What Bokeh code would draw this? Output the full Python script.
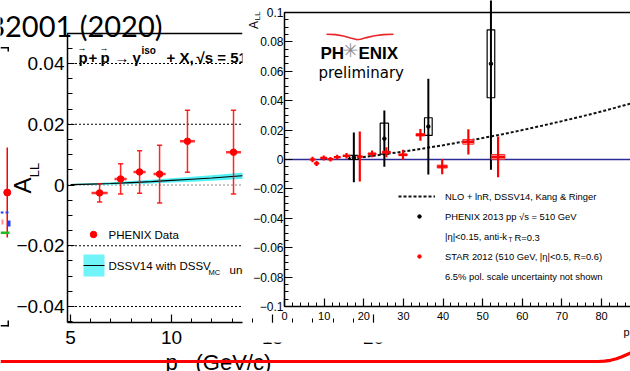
import math
from bokeh.plotting import figure
from bokeh.models import Range1d, FixedTicker, LinearAxis, Legend, LegendItem
from bokeh.core.properties import value
from bokeh.embed import file_html
from bokeh.resources import INLINE

SANS = "Liberation Sans"
RED = "#ff0000"

# ---------------- direct-photon A_LL (PHENIX, sqrt(s) = 510 GeV) ----------------
gam_pt = [6.44, 7.48, 8.42, 9.41, 10.79, 13.07]
gam_all = [-0.0026, 0.0020, 0.0043, 0.0036, 0.0144, 0.0108]
gam_err = [0.0030, 0.0050, 0.0070, 0.0095, 0.0102, 0.0138]
gam_xerr = [0.40, 0.30, 0.30, 0.30, 0.37, 0.37]

dssv_pt = [5, 6, 7, 8, 9, 10, 11, 12, 13, 14]
dssv_all = [0.0001, 0.0003, 0.0005, 0.0008, 0.0011, 0.0015, 0.0019, 0.0023, 0.0028, 0.0033]
dssv_unc = [0.0002, 0.0003, 0.0004, 0.0005, 0.0006, 0.0007, 0.0008, 0.0009, 0.0010, 0.0011]

gam_yticks = [-0.04, -0.02, 0.0, 0.02, 0.04]
gam_ylabels = ["\u22120.04", "\u22120.02", "0", "0.02", "0.04"]
gam_xticks = [5, 10, 15, 20]
gam_xlabels = ["5", "10", "15", "20"]

# ---------------- inclusive-jet A_LL at 510 GeV ----------------
phx_pt = [17.5, 25.2, 36.3, 52.1]
phx_all = [0.0014, 0.0142, 0.0224, 0.0651]
phx_err = [0.0169, 0.0192, 0.0326, 0.0721]
phx_sys = [0.0014, 0.0105, 0.0060, 0.0231]
phx_halfbin = [1.1, 1.05, 0.97, 0.96]

star_pt = [7.07, 8.1, 9.9, 11.6, 13.3, 15.65, 19.0, 22.1, 25.7, 29.9, 34.3, 39.8, 46.4, 53.9]
star_all = [0.0000, -0.0027, 0.0011, 0.0002, 0.0016, 0.0025, 0.0020, 0.0039, 0.0050,
            0.0032, 0.0168, -0.0048, 0.0120, 0.0018]
star_err = [0.0018, 0.0017, 0.0017, 0.0015, 0.0016, 0.0019, 0.0170, 0.0023, 0.0034,
            0.0034, 0.0040, 0.0052, 0.0086, 0.0138]
star_xerr = [0.7, 0.6, 0.8, 0.7, 0.8, 0.9, 0.7, 1.0, 1.0, 1.05, 1.1, 1.25, 1.4, 1.7]
star_sys = [0.0003, 0.0003, 0.0003, 0.0003, 0.0003, 0.0004, 0.0004, 0.0005, 0.0006,
            0.0006, 0.0008, 0.0010, 0.0016, 0.0016]

nlo_pt = [16, 20, 25, 30, 35, 40, 45, 50, 55, 60, 65, 70, 75, 80, 85, 90]
nlo_all = [0.0005, 0.0017, 0.0035, 0.0054, 0.0075, 0.0097, 0.0121, 0.0146, 0.0172,
           0.0200, 0.0230, 0.0261, 0.0293, 0.0327, 0.0363, 0.0399]

jet_yticks = [-0.1, -0.08, -0.06, -0.04, -0.02, 0.0, 0.02, 0.04, 0.06, 0.08, 0.1]
jet_ylabels = ["\u22120.1", "\u22120.08", "\u22120.06", "\u22120.04", "\u22120.02", "0",
               "0.02", "0.04", "0.06", "0.08", "0.1"]
jet_xticks = [0, 10, 20, 30, 40, 50, 60, 70, 80]
jet_xlabels = ["0", "10", "20", "30", "40", "50", "60", "70", "80"]

# ---------------- page geometry ----------------
W, H = 630, 371


def value_at(v1, p1, v2, p2, px):
    """Data value found at pixel px on an axis where v1 sits at p1 and v2 at p2."""
    return v1 + (px - p1) * (v2 - v1) / (p2 - p1)


# the page itself is addressed in pixels (y grows downward); each panel gets its own ranges
p = figure(width=W, height=H, x_range=Range1d(0, W), y_range=Range1d(H, 0),
           x_axis_type=None, y_axis_type=None, toolbar_location=None,
           output_backend="svg", min_border=0, min_border_left=0, min_border_right=0,
           min_border_top=0, min_border_bottom=0)
p.outline_line_color = None
p.background_fill_color = "white"
p.border_fill_color = "white"

gx = lambda px: value_at(5, 70.0, 10, 171.0, px)
gy = lambda px: value_at(0.04, 63.0, -0.04, 306.0, px)
jx = lambda px: value_at(0, 284.0, 80, 601.0, px)
jy = lambda px: value_at(0.1, 12.0, -0.1, 306.0, px)

p.extra_x_ranges = {"gx": Range1d(gx(0), gx(W)), "jx": Range1d(jx(0), jx(W))}
p.extra_y_ranges = {"gy": Range1d(gy(H), gy(0)), "jy": Range1d(jy(H), jy(0))}

GX_LO, GX_HI, GY_LO, GY_HI = gx(66.5), gx(242.0), gy(322.0), gy(33.0)
JX_LO, JX_HI, JY_LO, JY_HI = 0.0, jx(W), -0.1, 0.1

G = dict(x_range_name="gx", y_range_name="gy")
J = dict(x_range_name="jx", y_range_name="jy")


def frame_axis(side, rn, loc, bounds, ticks, minor, tick_in, minor_in):
    ax = LinearAxis(ticker=FixedTicker(ticks=list(ticks), minor_ticks=list(minor)),
                    fixed_location=loc, bounds=bounds, **rn)
    ax.axis_line_width = 1.5
    ax.axis_line_color = "black"
    ax.major_tick_in, ax.major_tick_out = tick_in, 0
    ax.minor_tick_in, ax.minor_tick_out = minor_in, 0
    ax.major_tick_line_width = 1.2
    ax.minor_tick_line_width = 1.0
    ax.major_label_standoff = 0
    ax.major_label_text_font_size = "0px"
    ax.major_label_text_color = None
    p.add_layout(ax, side)


def txt(x, y, s, px, color="black", font=SANS, style="normal", align="left",
        baseline="alphabetic", angle=0.0, **rn):
    xs = x if isinstance(x, list) else [x]
    ys = y if isinstance(y, list) else [y] * len(xs)
    ss = s if isinstance(s, list) else [s] * len(xs)
    p.text(x=xs, y=ys, text=ss, text_font=value(font), text_font_size=f"{px}px",
           text_font_style=style, text_color=color, text_align=align,
           text_baseline=baseline, angle=angle, **rn)


# =====================================================================
# Left panel
# =====================================================================
for v in gam_yticks:
    p.segment(x0=[GX_LO], x1=[GX_HI], y0=[v], y1=[v], line_width=1, line_dash="2 2",
              line_color="#8a8a8a" if v == 0 else "black", **G)
p.segment(x0=[GX_LO], x1=[GX_HI], y0=[GY_HI], y1=[GY_HI], line_color="black", line_width=1.5, **G)

band = p.varea(x=dssv_pt, y1=[a - u for a, u in zip(dssv_all, dssv_unc)],
               y2=[a + u for a, u in zip(dssv_all, dssv_unc)],
               fill_color="#3ff0f4", fill_alpha=0.9, **G)
p.line(dssv_pt, dssv_all, line_color="black", line_width=1.2, **G)

g_lo = [a - e for a, e in zip(gam_all, gam_err)]
g_hi = [a + e for a, e in zip(gam_all, gam_err)]
p.segment(x0=gam_pt, y0=g_lo, x1=gam_pt, y1=g_hi, line_color=RED, line_width=1.5,
          line_alpha=0.85, **G)
for ends in (g_lo, g_hi):
    p.segment(x0=[x - 0.13 for x in gam_pt], y0=ends, x1=[x + 0.13 for x in gam_pt], y1=ends,
              line_color=RED, line_width=1.5, line_alpha=0.85, **G)
p.segment(x0=[x - d for x, d in zip(gam_pt, gam_xerr)], y0=gam_all,
          x1=[x + d for x, d in zip(gam_pt, gam_xerr)], y1=gam_all,
          line_color=RED, line_width=2.5, line_alpha=0.8, **G)
p.scatter(gam_pt, gam_all, size=6.5, color=RED, **G)

# tick labels
txt([64.0] * len(gam_yticks), gam_yticks, gam_ylabels, 19, align="right", baseline="middle",
    y_range_name="gy")
txt(gam_xticks, 337.0, gam_xlabels, 19, align="center", baseline="middle", x_range_name="gx")

# legend
p.quad(left=[83], right=[104], top=[254], bottom=[276], fill_color="#70f4f8", line_color=None)
p.segment(x0=[83], x1=[104], y0=[265], y1=[265], line_color="black", line_width=1.2)
p.scatter([93], [234], size=6.5, color=RED)
txt(108, 234, "PHENIX Data", 11.5, baseline="middle")
txt(108, 265, "DSSV14 with DSSV", 11.5, baseline="middle")
txt(208, 272, "MC", 7.5)
txt(229, 269, "uncertainty", 11.5)

# page title and reaction line
txt(162, 25, "B2001 (2020)", 29, font="Lato", align="right")
txt(78, 57, "p", 15, style="bold")
txt(77, 47, "\u2192", 9)
txt(88, 57, "+", 15, style="bold")
txt(100, 57, "p", 15, style="bold")
txt(99, 47, "\u2192", 9)
txt(114, 57, "\u2192", 15)
txt(132, 57, "\u03b3", 15, style="bold")
txt(141, 50, "iso", 10, style="bold")
txt(166, 57, "+ X,", 15, style="bold")
txt(196, 57, "\u221as = 510 GeV", 15, style="bold")

# axis titles
txt(21.5, 185, "A", 24, align="center", baseline="middle", angle=math.pi / 2)
txt(34, 169.5, "LL", 13, align="center", baseline="middle", angle=math.pi / 2)
txt(165, 361.5, "p", 22)
txt(178, 375, "T", 13)
txt(195, 361.5, "(GeV/c)", 22)

# edge of the neighbouring panel
p.segment(x0=[0, 7.75, 0, 7.75], x1=[8, 7.75, 8, 7.75], y0=[47.25, 46.5, 325.25, 320],
          y1=[47.25, 51, 325.25, 326], line_color="black", line_width=1.5)
p.segment(x0=[6.75], x1=[6.75], y0=[147], y1=[237], line_color=RED, line_width=1.5)
p.scatter([6.75], [192], size=7, color=RED)
p.segment(x0=[0, 5], x1=[3, 8], y0=[212, 212], y1=[212, 212], line_color="#2040ff", line_width=2)
p.quad(left=[7], right=[10], top=[220], bottom=[226], fill_color="#2040ff", line_color=None)
p.quad(left=[1], right=[3], top=[219], bottom=[224], fill_color="#ff6060", fill_alpha=0.7, line_color=None)
p.segment(x0=[0], x1=[9], y0=[232.25], y1=[232.25], line_color="#22bb22", line_width=2.5)

# =====================================================================
# Right panel (laid over the left one)
# =====================================================================
p.quad(left=[242], right=[W], top=[0], bottom=[342], fill_color="white", line_color=None)

p.segment(x0=[JX_LO], x1=[JX_HI], y0=[JY_HI], y1=[JY_HI], line_color="black", line_width=1.5, **J)
p.segment(x0=[JX_LO], x1=[JX_HI], y0=[0], y1=[0], line_color="#2c2c96", line_width=1.3, **J)

nlo_line = p.line(nlo_pt, nlo_all, line_color="#111111", line_width=2, line_dash="3 2", **J)

p.segment(x0=phx_pt, y0=[a - e for a, e in zip(phx_all, phx_err)],
          x1=phx_pt, y1=[a + e for a, e in zip(phx_all, phx_err)],
          line_color="black", line_width=2, **J)
p.quad(left=[x - b for x, b in zip(phx_pt, phx_halfbin)],
       right=[x + b for x, b in zip(phx_pt, phx_halfbin)],
       bottom=[a - s for a, s in zip(phx_all, phx_sys)],
       top=[a + s for a, s in zip(phx_all, phx_sys)],
       fill_color=None, line_color="black", line_width=1.2, **J)
p.scatter(phx_pt, phx_all, size=3.5, color="black", **J)

p.quad(left=[x - d for x, d in zip(star_pt, star_xerr)],
       right=[x + d for x, d in zip(star_pt, star_xerr)],
       bottom=[a - s for a, s in zip(star_all, star_sys)],
       top=[a + s for a, s in zip(star_all, star_sys)],
       fill_color="#ff7070", fill_alpha=0.6, line_color="#ff3030", line_width=1, **J)
p.segment(x0=star_pt, y0=[a - e for a, e in zip(star_all, star_err)],
          x1=star_pt, y1=[a + e for a, e in zip(star_all, star_err)],
          line_color=RED, line_width=2.2, **J)
p.segment(x0=[x - d for x, d in zip(star_pt, star_xerr)], y0=star_all,
          x1=[x + d for x, d in zip(star_pt, star_xerr)], y1=star_all,
          line_color=RED, line_width=2.2, **J)

# legend: rows from Bokeh's Legend, point keys drawn as small dots in the key column
leg = Legend(items=[LegendItem(label="NLO + lnR, DSSV14, Kang & Ringer", renderers=[nlo_line]),
                    LegendItem(label="PHENIX 2013 pp \u221as = 510 GeV", renderers=[]),
                    LegendItem(label="|\u03b7|<0.15, anti-k", renderers=[]),
                    LegendItem(label="STAR 2012 (510 GeV, |\u03b7|<0.5, R=0.6)", renderers=[]),
                    LegendItem(label="6.5% pol. scale uncertainty not shown", renderers=[])],
             location=(398, H - 285), orientation="vertical",
             glyph_width=37, glyph_height=18, label_height=18, label_standoff=10,
             spacing=2, padding=0, margin=0, border_line_color=None,
             background_fill_alpha=0, label_text_font=SANS, label_text_font_size="9.4px",
             label_text_color="black")
p.add_layout(leg)
p.scatter([419], [216], size=3.5, color="black")
p.scatter([419], [256], size=3.5, color=RED)
txt(508, 239, "T", 6.5)
txt(514, 236.5, "R=0.3", 9.4)

# tick labels
txt([283.0] * len(jet_yticks), jet_yticks, jet_ylabels, 12, align="right", baseline="middle",
    y_range_name="jy")
txt(jet_xticks, 315.5, jet_xlabels, 11, align="center", baseline="middle", x_range_name="jx")

# axis titles
txt(253.5, 24.5, "A", 12, align="center", baseline="middle", angle=math.pi / 2)
txt(256.5, 15.5, "LL", 8, align="center", baseline="middle", angle=math.pi / 2)
txt(623, 331, "p", 11)

# logo
arc_x = [326, 335, 343, 350, 356, 360, 366, 374, 383, 393]
arc_y = [33.7, 34.1, 35.5, 37.5, 39.1, 38.7, 37.1, 35.3, 34.1, 33.7]
p.line(arc_x, arc_y, line_color="#e8262b", line_width=1.6)
txt(320, 53, "PH", 17, style="bold")
txt(350, 49, "\u2733", 19, color="#8c8c8c", font="DejaVu Sans", align="center", baseline="middle")
txt(358, 53, "ENIX", 17, style="bold")
txt(318, 72, "preliminary", 15, font="DejaVu Sans")

# panel frames and ticks
frame_axis("left", G, GX_LO, (GY_LO, GY_HI), gam_yticks,
           [round(-0.045 + 0.005 * i, 3) for i in range(19)], 7, 5)
frame_axis("below", G, GY_LO, (GX_LO, GX_HI), gam_xticks, list(range(5, 21)), 8, 4)
frame_axis("left", J, JX_LO, (JY_LO, JY_HI), jet_yticks,
           [round(-0.1 + 0.005 * i, 3) for i in range(41)], 8, 4)
frame_axis("below", J, JY_LO, (JX_LO, JX_HI), jet_xticks, list(range(0, 88, 2)), 8, 4)

# slide rule with its rising right end
rule_x = [0, 598, 604, 610, 616, 622, 630]
rule_y = [361, 361, 360.7, 359.8, 358.2, 356.0, 352.5]
p.line(rule_x, rule_y, line_color=RED, line_width=3.2)

open("out.html", "w").write(file_html(p, INLINE))
